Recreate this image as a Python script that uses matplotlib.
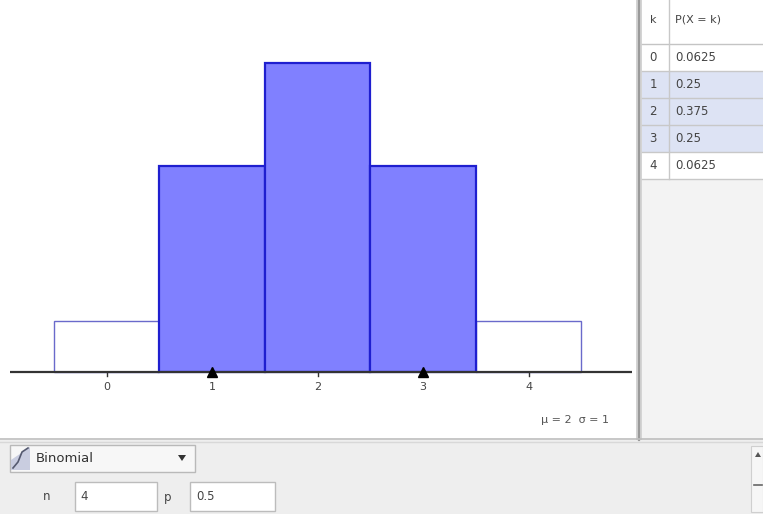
import numpy as np
import matplotlib
matplotlib.use("Agg")
import matplotlib.pyplot as plt
from matplotlib.patches import Rectangle, Polygon

# ---- data ----
n_trials = 4
p_success = 0.5
k_values = [0, 1, 2, 3, 4]
probs = [0.0625, 0.25, 0.375, 0.25, 0.0625]
prob_labels = ["0.0625", "0.25", "0.375", "0.25", "0.0625"]
selected = [1, 2, 3]
tick_labels = ["0", "1", "2", "3", "4"]
dist_name = "Binomial"
mu = n_trials * p_success
sigma = np.sqrt(n_trials * p_success * (1 - p_success))

W, H = 763, 514
fig = plt.figure(figsize=(W / 100, H / 100), dpi=100)
fig.patch.set_facecolor("white")

# background / UI layer in pixel coordinates
bg = fig.add_axes([0, 0, 1, 1], zorder=0)
bg.set_xlim(0, W)
bg.set_ylim(H, 0)
bg.axis("off")

def rect(x0, y0, x1, y1, fc, ec="none", lw=0.0, z=1):
    bg.add_patch(Rectangle((x0, y0), x1 - x0, y1 - y0, facecolor=fc,
                           edgecolor=ec, linewidth=lw, zorder=z))

# graph area white
rect(0, 0, 636, 440, "white")
# separator between graph and table
rect(636, 0, 642, 440, "#d4d4d4")
bg.plot([639, 639], [0, 440], color="#9a9a9a", lw=1.6, zorder=2)
# table panel background
rect(642, 0, W, 440, "#f3f3f3")
# bottom panel
rect(0, 440, W, H, "#eeeeee")
bg.plot([0, W], [439, 439], color="#bdbdbd", lw=1.2, zorder=3)
bg.plot([0, W], [442, 442], color="#d8d8d8", lw=1.0, zorder=3)

# table
row_h = 27
header_bottom = 44
rect(642, 0, W, header_bottom, "white", z=2)
bg.text(653, 20, "k", fontsize=8, color="#444444", ha="center", va="center", zorder=5)
bg.text(675, 20, "P(X = k)", fontsize=8, color="#444444", ha="left", va="center", zorder=5)
bg.plot([642, W], [header_bottom, header_bottom], color="#c4c4c4", lw=1, zorder=4)
for i, (k, lab) in enumerate(zip(k_values, prob_labels)):
    y0 = header_bottom + i * row_h
    fc = "#dde3f4" if k in selected else "white"
    rect(642, y0, W, y0 + row_h, fc, z=2)
    bg.plot([642, W], [y0 + row_h, y0 + row_h], color="#c8c8c8", lw=1, zorder=4)
    bg.text(653, y0 + row_h / 2, str(k), fontsize=8.5, color="#444444",
            ha="center", va="center", zorder=5)
    bg.text(675, y0 + row_h / 2, lab, fontsize=8.5, color="#444444",
            ha="left", va="center", zorder=5)
bg.plot([669, 669], [0, header_bottom + 5 * row_h], color="#c8c8c8", lw=1, zorder=4)

# bottom controls: dropdown
rect(10, 445, 195, 472, "#f7f7f7", ec="#b9b9b9", lw=1, z=3)
bg.add_patch(Polygon([[11, 470], [30, 470], [30, 447], [11, 460]], closed=True,
                     facecolor="#c9cde0", edgecolor="none", zorder=4))
bg.plot([13, 18, 22, 28], [468, 462, 452, 448], color="#555a70", lw=1.2, zorder=5)
bg.text(36, 458, dist_name, fontsize=9.5, color="#333333", ha="left", va="center", zorder=5)
bg.add_patch(Polygon([[178, 455], [186, 455], [182, 461]], closed=True,
                     facecolor="#333333", edgecolor="none", zorder=5))
# parameter fields
bg.text(47, 497, "n", fontsize=8.5, color="#444444", ha="center", va="center", zorder=5)
rect(75, 482, 157, 511, "white", ec="#bcbcbc", lw=1, z=3)
bg.text(80, 497, str(n_trials), fontsize=8.5, color="#444444", ha="left", va="center", zorder=5)
bg.text(168, 497, "p", fontsize=8.5, color="#444444", ha="center", va="center", zorder=5)
rect(190, 482, 275, 511, "white", ec="#bcbcbc", lw=1, z=3)
bg.text(196, 497, f"{p_success:g}", fontsize=8.5, color="#444444", ha="left", va="center", zorder=5)
# scrollbar hint at right edge
rect(751, 446, W, 512, "#f6f6f6", ec="#cfcfcf", lw=0.8, z=3)
bg.add_patch(Polygon([[755, 457], [761, 457], [758, 452]], closed=True,
                     facecolor="#555555", edgecolor="none", zorder=5))
bg.plot([754, 762], [485, 485], color="#666666", lw=1.2, zorder=5)

# ---- main chart axes ----
px_unit_x = 105.5
x_zero_px = 106.5
px_unit_y = 824.0
axis_y_px = 372.0
ax_left, ax_right, ax_top, ax_bottom = 10, 632, 0, 437
ax = fig.add_axes([ax_left / W, 1 - ax_bottom / H, (ax_right - ax_left) / W,
                   (ax_bottom - ax_top) / H], zorder=2)
ax.set_facecolor("none")
ax.set_xlim((ax_left - x_zero_px) / px_unit_x, (ax_right - x_zero_px) / px_unit_x)
ax.set_ylim(-(ax_bottom - axis_y_px) / px_unit_y, axis_y_px / px_unit_y)
ax.axis("off")

for k, pr in zip(k_values, probs):
    if k in selected:
        ax.bar(k, pr, width=1.0, facecolor="#8080ff", edgecolor="#1f1fcf",
               linewidth=1.6, zorder=3)
    else:
        ax.bar(k, pr, width=1.0, facecolor="white", edgecolor="#6a6acb",
               linewidth=1.0, zorder=2)

ax.axhline(0, color="#333333", lw=1.6, zorder=4)
dy = 1 / px_unit_y
for k, lab in zip(k_values, tick_labels):
    ax.plot([k, k], [0, -4 * dy], color="#333333", lw=1, zorder=4)
    ax.text(k, -15 * dy, lab, fontsize=8, color="#444444", ha="center",
            va="center", zorder=5)

ax.plot([mu - sigma, mu + sigma], [0, 0], ls="none", marker="^", ms=7,
        color="black", zorder=6, clip_on=False)
ax.text((575 - x_zero_px) / px_unit_x, -48 * dy,
        f"μ = {mu:g}  σ = {sigma:g}", fontsize=8, color="#555555",
        ha="center", va="center", zorder=5)

fig.savefig("out.png", dpi=100)
